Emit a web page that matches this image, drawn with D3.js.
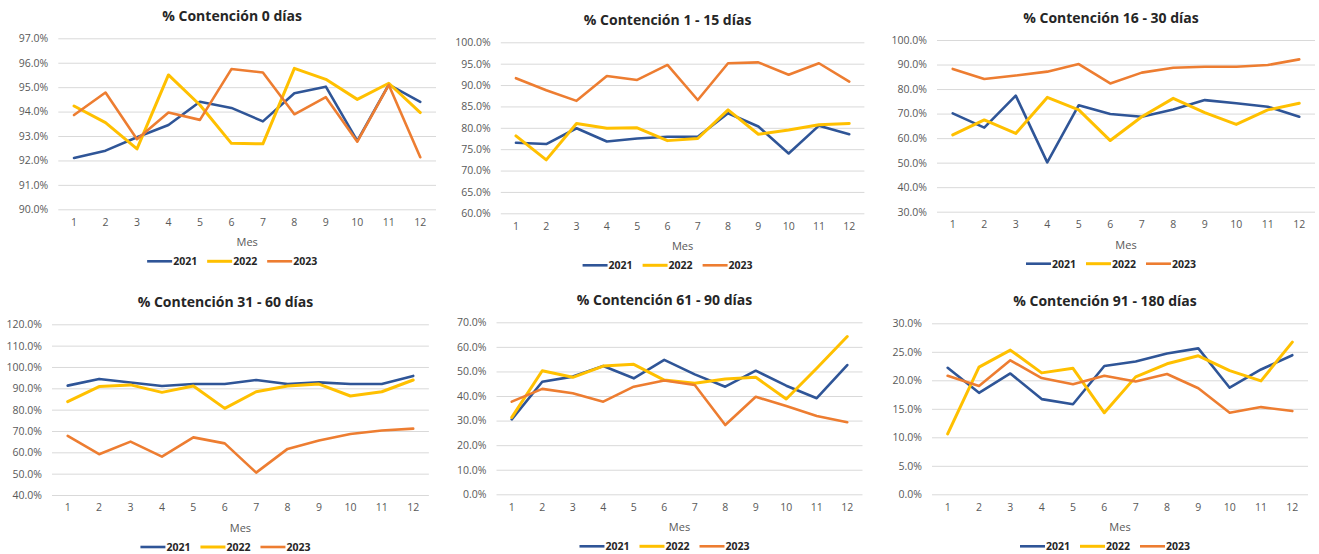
<!DOCTYPE html>
<html lang="es">
<head>
<meta charset="utf-8">
<script src="https://cdn.jsdelivr.net/npm/d3@7"></script>
<style>
  html, body { margin: 0; padding: 0; background: #fff; }
  svg { display: block; }
  .tick text { font-family: "Open Sans", "Noto Sans", sans-serif; }
</style>
</head>
<body>
<svg id="chart" width="1319" height="554"></svg>
<script>
// Meses y años
const meses = [1, 2, 3, 4, 5, 6, 7, 8, 9, 10, 11, 12];
const anios = ["2021", "2022", "2023"];
const colores = ["#2F5597", "#FFC000", "#ED7D31"];

// % Contención 0 días
const c0_2021 = [92.1, 92.4, 92.95, 93.45, 94.4, 94.15, 93.6, 94.75, 95.02, 92.8, 95.1, 94.4];
const c0_2022 = [94.23, 93.55, 92.47, 95.5, 94.27, 92.7, 92.68, 95.77, 95.32, 94.5, 95.16, 93.96];
const c0_2023 = [93.86, 94.78, 92.87, 93.96, 93.66, 95.74, 95.6, 93.89, 94.59, 92.77, 95.09, 92.13];

// % Contención 1 - 15 días
const c1_2021 = [76.5, 76.2, 79.9, 76.8, 77.5, 77.9, 77.9, 83.4, 80.3, 74.0, 80.5, 78.5];
const c1_2022 = [78.1, 72.5, 81.0, 79.9, 80.0, 77.0, 77.5, 84.2, 78.5, 79.5, 80.7, 81.0];
const c1_2023 = [91.6, 88.8, 86.3, 92.1, 91.2, 94.7, 86.5, 95.1, 95.3, 92.4, 95.1, 90.8];

// % Contención 16 - 30 días
const c16_2021 = [70.1, 64.3, 77.3, 50.1, 73.4, 69.8, 68.7, 71.7, 75.5, 74.2, 72.8, 68.7];
const c16_2022 = [61.3, 67.4, 61.9, 76.6, 71.5, 59.0, 68.7, 76.2, 70.4, 65.6, 71.5, 74.2];
const c16_2023 = [88.2, 84.1, 85.5, 87.1, 90.2, 82.3, 86.7, 88.7, 89.1, 89.1, 89.8, 92.1];

// % Contención 31 - 60 días
const c31_2021 = [91.25, 94.4, 92.7, 91.1, 92.0, 92.0, 93.9, 92.0, 92.8, 92.0, 92.0, 95.8];
const c31_2022 = [83.75, 90.8, 91.6, 88.1, 91.1, 80.6, 88.4, 91.1, 92.0, 86.4, 88.4, 93.9];
const c31_2023 = [67.7, 59.1, 65.0, 58.0, 67.0, 64.2, 50.5, 61.6, 65.5, 68.6, 70.2, 71.1];

// % Contención 61 - 90 días
const c61_2021 = [30.5, 45.8, 47.9, 52.2, 47.2, 54.7, 48.8, 43.8, 50.3, 44.2, 39.1, 52.6];
const c61_2022 = [31.3, 50.3, 47.6, 52.2, 52.9, 46.5, 45.2, 46.9, 47.6, 38.8, 51.3, 64.2];
const c61_2023 = [37.7, 42.9, 41.1, 37.7, 43.8, 46.3, 44.5, 28.2, 39.7, 35.9, 31.9, 29.3];

// % Contención 91 - 180 días
const c91_2021 = [22.2, 17.8, 21.2, 16.7, 15.8, 22.5, 23.3, 24.7, 25.6, 18.7, 21.9, 24.4];
const c91_2022 = [10.6, 22.3, 25.3, 21.3, 22.1, 14.3, 20.6, 22.9, 24.3, 21.7, 19.9, 26.7];
const c91_2023 = [20.8, 19.0, 23.5, 20.4, 19.3, 20.8, 19.8, 21.1, 18.6, 14.3, 15.3, 14.6];

// Marcas del eje Y de cada gráfico
const ticks0 = [90, 91, 92, 93, 94, 95, 96, 97];
const ticks1 = [60, 65, 70, 75, 80, 85, 90, 95, 100];
const ticks16 = [30, 40, 50, 60, 70, 80, 90, 100];
const ticks31 = [40, 50, 60, 70, 80, 90, 100, 110, 120];
const ticks61 = [0, 10, 20, 30, 40, 50, 60, 70];
const ticks91 = [0, 5, 10, 15, 20, 25, 30];

const paneles = [
  { titulo: "% Contención 0 días", series: [c0_2021, c0_2022, c0_2023], ticks: ticks0,
    box: { x0: 58.3, x1: 436, y0: 38.3, y1: 209.3 } },
  { titulo: "% Contención 1 - 15 días", series: [c1_2021, c1_2022, c1_2023], ticks: ticks1,
    box: { x0: 500.8, x1: 864.4, y0: 42.3, y1: 213.3 } },
  { titulo: "% Contención 16 - 30 días", series: [c16_2021, c16_2022, c16_2023], ticks: ticks16,
    box: { x0: 937, x1: 1315, y0: 40, y1: 211.7 } },
  { titulo: "% Contención 31 - 60 días", series: [c31_2021, c31_2022, c31_2023], ticks: ticks31,
    box: { x0: 52, x1: 428.9, y0: 324.3, y1: 495 } },
  { titulo: "% Contención 61 - 90 días", series: [c61_2021, c61_2022, c61_2023], ticks: ticks61,
    box: { x0: 496.5, x1: 862.5, y0: 322.3, y1: 494.3 } },
  { titulo: "% Contención 91 - 180 días", series: [c91_2021, c91_2022, c91_2023], ticks: ticks91,
    box: { x0: 932, x1: 1308, y0: 323.3, y1: 494.3 } }
];

const svg = d3.select("#chart");
const fuente = '"Open Sans", "Noto Sans", sans-serif';
const grisTexto = "#595959";

paneles.forEach(p => {
  const b = p.box;
  const g = svg.append("g");

  const x = d3.scaleBand().domain(meses).range([b.x0, b.x1]);
  const y = d3.scaleLinear()
    .domain([d3.min(p.ticks), d3.max(p.ticks)])
    .range([b.y1, b.y0]);

  // Líneas de cuadrícula y etiquetas del eje Y
  const ejeY = d3.axisLeft(y)
    .tickValues(p.ticks)
    .tickSize(-(b.x1 - b.x0))
    .tickPadding(10)
    .tickFormat(d => d3.format(".1f")(d) + "%");
  const gy = g.append("g").attr("transform", `translate(${b.x0},0)`).call(ejeY);
  gy.select(".domain").remove();
  gy.selectAll(".tick line").attr("stroke", "#D9D9D9").attr("stroke-width", 1);
  gy.selectAll(".tick text")
    .attr("fill", grisTexto)
    .attr("font-size", 10.5)
    .attr("font-family", fuente);

  // Etiquetas de meses
  const ejeX = d3.axisBottom(x).tickSize(0).tickPadding(9);
  const gx = g.append("g").attr("transform", `translate(0,${b.y1})`).call(ejeX);
  gx.select(".domain").remove();
  gx.selectAll(".tick text")
    .attr("fill", grisTexto)
    .attr("font-size", 10.5)
    .attr("font-family", fuente);

  // Series
  const linea = d3.line()
    .x((d, i) => x(meses[i]) + x.bandwidth() / 2)
    .y(d => y(d));
  p.series.forEach((s, k) => {
    g.append("path")
      .datum(s)
      .attr("fill", "none")
      .attr("stroke", colores[k])
      .attr("stroke-width", k === 1 ? 3 : 2.6)
      .attr("stroke-linejoin", "round")
      .attr("stroke-linecap", "round")
      .attr("d", linea);
  });

  const centro = (b.x0 + b.x1) / 2 - 15;

  // Título
  g.append("text")
    .attr("x", centro)
    .attr("y", b.y0 - 17)
    .attr("text-anchor", "middle")
    .attr("font-family", fuente)
    .attr("font-weight", "bold")
    .attr("font-size", 14)
    .attr("fill", "#262626")
    .text(p.titulo);

  // Título del eje X
  g.append("text")
    .attr("x", (b.x0 + b.x1) / 2)
    .attr("y", b.y1 + 37)
    .attr("text-anchor", "middle")
    .attr("font-family", fuente)
    .attr("font-size", 11)
    .attr("fill", grisTexto)
    .text("Mes");

  // Leyenda
  const ley = g.append("g");
  let cx = 0;
  anios.forEach((a, k) => {
    ley.append("line")
      .attr("x1", cx).attr("x2", cx + 25)
      .attr("y1", 0).attr("y2", 0)
      .attr("stroke", colores[k])
      .attr("stroke-width", k === 1 ? 3 : 2.6);
    const t = ley.append("text")
      .attr("x", cx + 26)
      .attr("y", 4)
      .attr("font-family", fuente)
      .attr("font-weight", "bold")
      .attr("font-size", 10.5)
      .attr("fill", "#262626")
      .text(a);
    cx += 26 + t.node().getComputedTextLength() + 10;
  });
  const anchoLey = cx - 10;
  ley.attr("transform", `translate(${centro - anchoLey / 2},${b.y1 + 52})`);
});
</script>
</body>
</html>
